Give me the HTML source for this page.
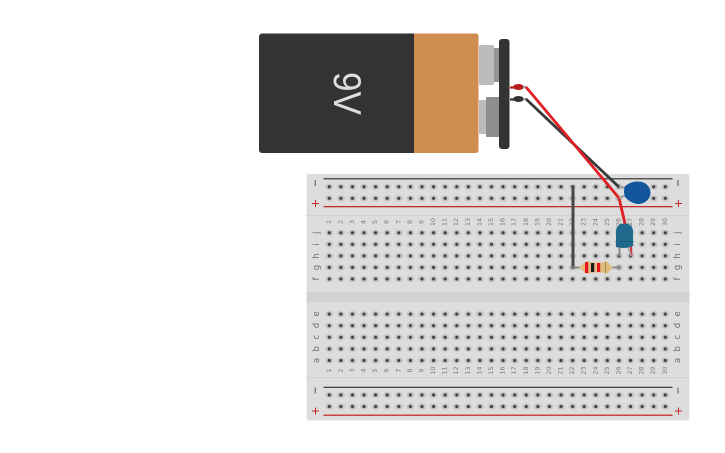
<!DOCTYPE html>
<html>
<head>
<meta charset="utf-8">
<style>
html,body{margin:0;padding:0;background:#fff;width:725px;height:453px;overflow:hidden}
svg{display:block}
text{font-family:"DejaVu Sans","Liberation Sans",sans-serif}
.n{font-size:6.300px;fill:#777;text-anchor:middle;dominant-baseline:central}
.l{font-size:8.500px;fill:#6e6e6e;text-anchor:middle;dominant-baseline:central}
</style>
</head>
<body>
<svg width="725" height="453" viewBox="0 0 725 453" xmlns="http://www.w3.org/2000/svg">
<defs>
<radialGradient id="h"><stop offset="0" stop-color="#b4b4b4"/><stop offset=".65" stop-color="#c4c4c4"/><stop offset="1" stop-color="#dcdcdc" stop-opacity="0"/></radialGradient>
<pattern id="holes" patternUnits="userSpaceOnUse" x="323.500" y="181" width="11.586" height="11.550">
<ellipse cx="5.800" cy="5.800" rx="5" ry="3.900" fill="url(#h)"/>
<circle cx="5.800" cy="5.800" r="1.550" fill="#404040"/>
</pattern>
<pattern id="holes2" patternUnits="userSpaceOnUse" x="323.500" y="227" width="11.586" height="11.550">
<ellipse cx="5.800" cy="5.800" rx="5" ry="3.900" fill="url(#h)"/>
<circle cx="5.800" cy="5.800" r="1.550" fill="#404040"/>
</pattern>
<pattern id="holes3" patternUnits="userSpaceOnUse" x="323.500" y="308.300" width="11.586" height="11.600">
<ellipse cx="5.800" cy="5.800" rx="5" ry="3.900" fill="url(#h)"/>
<circle cx="5.800" cy="5.800" r="1.550" fill="#404040"/>
</pattern>
<pattern id="holes4" patternUnits="userSpaceOnUse" x="323.500" y="389.200" width="11.586" height="11.550">
<ellipse cx="5.800" cy="5.800" rx="5" ry="3.900" fill="url(#h)"/>
<circle cx="5.800" cy="5.800" r="1.550" fill="#404040"/>
</pattern>
</defs>

<!-- Battery -->
<rect x="479" y="45" width="15" height="40" rx="1.500" fill="#bcbcbc"/>
<rect x="494" y="48" width="6" height="34" fill="#949494"/>
<rect x="479" y="100" width="8" height="34" fill="#bcbcbc"/>
<rect x="486" y="97" width="14" height="40" rx="1" fill="#8e8e8e"/>
<path d="M262 33.500H414V153H262a3 3 0 0 1-3-3V36.500a3 3 0 0 1 3-3z" fill="#333"/>
<path d="M414 33.500H476a2.500 2.500 0 0 1 2.500 2.500V150.500a2.500 2.500 0 0 1-2.500 2.500H414z" fill="#d08d52"/>
<text transform="translate(334 72) rotate(90)" font-size="39" fill="#dedede" textLength="43" lengthAdjust="spacingAndGlyphs" style="font-family:'Liberation Sans',sans-serif">9V</text>
<rect x="499" y="39" width="10.500" height="110" rx="3" fill="#333"/>

<!-- Breadboard -->
<rect x="306.500" y="174" width="383" height="246.500" rx="2.500" fill="#dddddd"/>
<rect x="306.500" y="292" width="383" height="10" fill="#d2d2d2"/>
<rect x="306.500" y="215" width="383" height="1" fill="#d2d2d2"/>
<rect x="306.500" y="377" width="383" height="1" fill="#d2d2d2"/>
<rect x="323.500" y="178" width="349" height="1.500" fill="#555"/>
<rect x="323.500" y="206" width="349" height="1.300" fill="#c22b2b"/>
<rect x="323.500" y="386.700" width="349" height="1.300" fill="#444"/>
<rect x="323.500" y="414.500" width="349" height="1.500" fill="#c84545"/>

<rect x="323.500" y="181" width="347.600" height="23" fill="url(#holes)"/>
<rect x="323.500" y="227" width="347.600" height="57.800" fill="url(#holes2)"/>
<rect x="323.500" y="308.300" width="347.600" height="58" fill="url(#holes3)"/>
<rect x="323.500" y="389.200" width="347.600" height="23.100" fill="url(#holes4)"/>

<!-- Rail marks -->
<g fill="#555">
<rect x="314.700" y="180" width="1" height="6"/>
<rect x="677.500" y="180" width="1" height="6"/>
<rect x="314.700" y="387.500" width="1" height="6"/>
<rect x="677.500" y="387.500" width="1" height="6"/>
</g>
<g fill="#c22b2b">
<rect x="312" y="203" width="7" height="1"/><rect x="315" y="200" width="1" height="7"/>
<rect x="675" y="203" width="7" height="1"/><rect x="678" y="200" width="1" height="7"/>
<rect x="312" y="410.500" width="7" height="1"/><rect x="315" y="407.500" width="1" height="7"/>
<rect x="675" y="410.500" width="7" height="1"/><rect x="678" y="407.500" width="1" height="7"/>
</g>

<!-- Letters -->
<text class="l" transform="translate(317 232.700) rotate(-90)">j</text>
<text class="l" transform="translate(317 244.300) rotate(-90)">i</text>
<text class="l" transform="translate(317 255.900) rotate(-90)">h</text>
<text class="l" transform="translate(317 267.500) rotate(-90)">g</text>
<text class="l" transform="translate(317 279) rotate(-90)">f</text>
<text class="l" transform="translate(678 232.700) rotate(-90)">j</text>
<text class="l" transform="translate(678 244.300) rotate(-90)">i</text>
<text class="l" transform="translate(678 255.900) rotate(-90)">h</text>
<text class="l" transform="translate(678 267.500) rotate(-90)">g</text>
<text class="l" transform="translate(678 279) rotate(-90)">f</text>
<text class="l" transform="translate(317 314) rotate(-90)">e</text>
<text class="l" transform="translate(317 325.600) rotate(-90)">d</text>
<text class="l" transform="translate(317 337.200) rotate(-90)">c</text>
<text class="l" transform="translate(317 348.800) rotate(-90)">b</text>
<text class="l" transform="translate(317 360.400) rotate(-90)">a</text>
<text class="l" transform="translate(678 314) rotate(-90)">e</text>
<text class="l" transform="translate(678 325.600) rotate(-90)">d</text>
<text class="l" transform="translate(678 337.200) rotate(-90)">c</text>
<text class="l" transform="translate(678 348.800) rotate(-90)">b</text>
<text class="l" transform="translate(678 360.400) rotate(-90)">a</text>

<!-- Top numbers -->
<text class="n" transform="translate(329.300 222) rotate(-90)">1</text>
<text class="n" transform="translate(340.900 222) rotate(-90)">2</text>
<text class="n" transform="translate(352.500 222) rotate(-90)">3</text>
<text class="n" transform="translate(364.100 222) rotate(-90)">4</text>
<text class="n" transform="translate(375.600 222) rotate(-90)">5</text>
<text class="n" transform="translate(387.200 222) rotate(-90)">6</text>
<text class="n" transform="translate(398.800 222) rotate(-90)">7</text>
<text class="n" transform="translate(410.400 222) rotate(-90)">8</text>
<text class="n" transform="translate(422 222) rotate(-90)">9</text>
<text class="n" transform="translate(433.600 222) rotate(-90)">10</text>
<text class="n" transform="translate(445.200 222) rotate(-90)">11</text>
<text class="n" transform="translate(456.700 222) rotate(-90)">12</text>
<text class="n" transform="translate(468.300 222) rotate(-90)">13</text>
<text class="n" transform="translate(479.900 222) rotate(-90)">14</text>
<text class="n" transform="translate(491.500 222) rotate(-90)">15</text>
<text class="n" transform="translate(503.100 222) rotate(-90)">16</text>
<text class="n" transform="translate(514.700 222) rotate(-90)">17</text>
<text class="n" transform="translate(526.300 222) rotate(-90)">18</text>
<text class="n" transform="translate(537.900 222) rotate(-90)">19</text>
<text class="n" transform="translate(549.400 222) rotate(-90)">20</text>
<text class="n" transform="translate(561 222) rotate(-90)">21</text>
<text class="n" transform="translate(572.600 222) rotate(-90)">22</text>
<text class="n" transform="translate(584.200 222) rotate(-90)">23</text>
<text class="n" transform="translate(595.800 222) rotate(-90)">24</text>
<text class="n" transform="translate(607.400 222) rotate(-90)">25</text>
<text class="n" transform="translate(619 222) rotate(-90)">26</text>
<text class="n" transform="translate(630.500 222) rotate(-90)">27</text>
<text class="n" transform="translate(642.100 222) rotate(-90)">28</text>
<text class="n" transform="translate(653.700 222) rotate(-90)">29</text>
<text class="n" transform="translate(665.300 222) rotate(-90)">30</text>

<!-- Bottom numbers -->
<text class="n" transform="translate(329.300 370.500) rotate(-90)">1</text>
<text class="n" transform="translate(340.900 370.500) rotate(-90)">2</text>
<text class="n" transform="translate(352.500 370.500) rotate(-90)">3</text>
<text class="n" transform="translate(364.100 370.500) rotate(-90)">4</text>
<text class="n" transform="translate(375.600 370.500) rotate(-90)">5</text>
<text class="n" transform="translate(387.200 370.500) rotate(-90)">6</text>
<text class="n" transform="translate(398.800 370.500) rotate(-90)">7</text>
<text class="n" transform="translate(410.400 370.500) rotate(-90)">8</text>
<text class="n" transform="translate(422 370.500) rotate(-90)">9</text>
<text class="n" transform="translate(433.600 370.500) rotate(-90)">10</text>
<text class="n" transform="translate(445.200 370.500) rotate(-90)">11</text>
<text class="n" transform="translate(456.700 370.500) rotate(-90)">12</text>
<text class="n" transform="translate(468.300 370.500) rotate(-90)">13</text>
<text class="n" transform="translate(479.900 370.500) rotate(-90)">14</text>
<text class="n" transform="translate(491.500 370.500) rotate(-90)">15</text>
<text class="n" transform="translate(503.100 370.500) rotate(-90)">16</text>
<text class="n" transform="translate(514.700 370.500) rotate(-90)">17</text>
<text class="n" transform="translate(526.300 370.500) rotate(-90)">18</text>
<text class="n" transform="translate(537.900 370.500) rotate(-90)">19</text>
<text class="n" transform="translate(549.400 370.500) rotate(-90)">20</text>
<text class="n" transform="translate(561 370.500) rotate(-90)">21</text>
<text class="n" transform="translate(572.600 370.500) rotate(-90)">22</text>
<text class="n" transform="translate(584.200 370.500) rotate(-90)">23</text>
<text class="n" transform="translate(595.800 370.500) rotate(-90)">24</text>
<text class="n" transform="translate(607.400 370.500) rotate(-90)">25</text>
<text class="n" transform="translate(619 370.500) rotate(-90)">26</text>
<text class="n" transform="translate(630.500 370.500) rotate(-90)">27</text>
<text class="n" transform="translate(642.100 370.500) rotate(-90)">28</text>
<text class="n" transform="translate(653.700 370.500) rotate(-90)">29</text>
<text class="n" transform="translate(665.300 370.500) rotate(-90)">30</text>

<!-- Jumper -->
<path d="M573 186.700V267.500" stroke="#484848" stroke-width="3" stroke-linecap="round" fill="none"/>

<!-- Resistor -->
<path d="M573 267.500H619" stroke="#8a8a8a" stroke-width="2" fill="none"/>
<circle cx="573" cy="267.500" r="1.600" fill="#777"/>
<circle cx="619" cy="267.500" r="2" fill="#888"/>
<path d="M579 267.500L586 261.500H590Q591 262.500 593 262.500H602Q604 262.500 605 261.500H607L613 267.500L607 273.500H605Q604 272.500 602 272.500H593Q591 272.500 590 273.500H586z" fill="#e0bc80"/>
<rect x="585" y="262" width="3.200" height="11" fill="#e8141c"/>
<rect x="591" y="263" width="3.200" height="9" fill="#1a1a1a"/>
<rect x="597" y="263" width="3.200" height="9" fill="#e8141c"/>
<rect x="605" y="262" width="1" height="11" fill="#a98b3c"/>

<!-- Wires from battery -->
<path d="M510 87.500H514" stroke="#b51c1c" stroke-width="2.200" fill="none"/>
<path d="M510 99.500H514" stroke="#333" stroke-width="2.200" fill="none"/>
<ellipse cx="518.500" cy="87" rx="5.500" ry="3" fill="#b51c1c"/>
<ellipse cx="518.500" cy="99" rx="5.500" ry="3" fill="#333"/>
<rect x="523" y="86" width="3.500" height="2.200" fill="#999"/>
<rect x="523" y="98" width="3.500" height="2.200" fill="#999"/>
<path d="M526 99L619 187" stroke="#3a3a3a" stroke-width="2.800" fill="none"/>
<path d="M526 87L619 198L626.500 230" stroke="#e01e24" stroke-width="2.800" stroke-linejoin="round" fill="none"/>

<!-- Capacitor -->
<path d="M619 186.700L626 188M619 198L626 195" stroke="#a0a0a0" stroke-width="2.200" fill="none"/>
<path d="M625 186Q632 181 638 181.500C646 181.500 650.500 187 650.500 192.500C650.500 199 645 204 638 204Q631 203.500 625 197Q623 191.500 625 186z" fill="#14569e"/>

<!-- LED -->
<path d="M631 246L631.500 256" stroke="#d0343c" stroke-width="2" fill="none"/>
<path d="M619.500 246V256" stroke="#8d8d8d" stroke-width="2" fill="none"/>
<path d="M628 246L631 256" stroke="#a5a5a5" stroke-width="1.600" fill="none"/>
<path d="M616 232Q616 223.500 624.500 223.500Q633 223.500 633 232V246Q625 249.500 616 247z" fill="#1f6a8c"/>
<rect x="615.500" y="241" width="18" height="1" fill="#1b5d7c"/>
</svg>
</body>
</html>
